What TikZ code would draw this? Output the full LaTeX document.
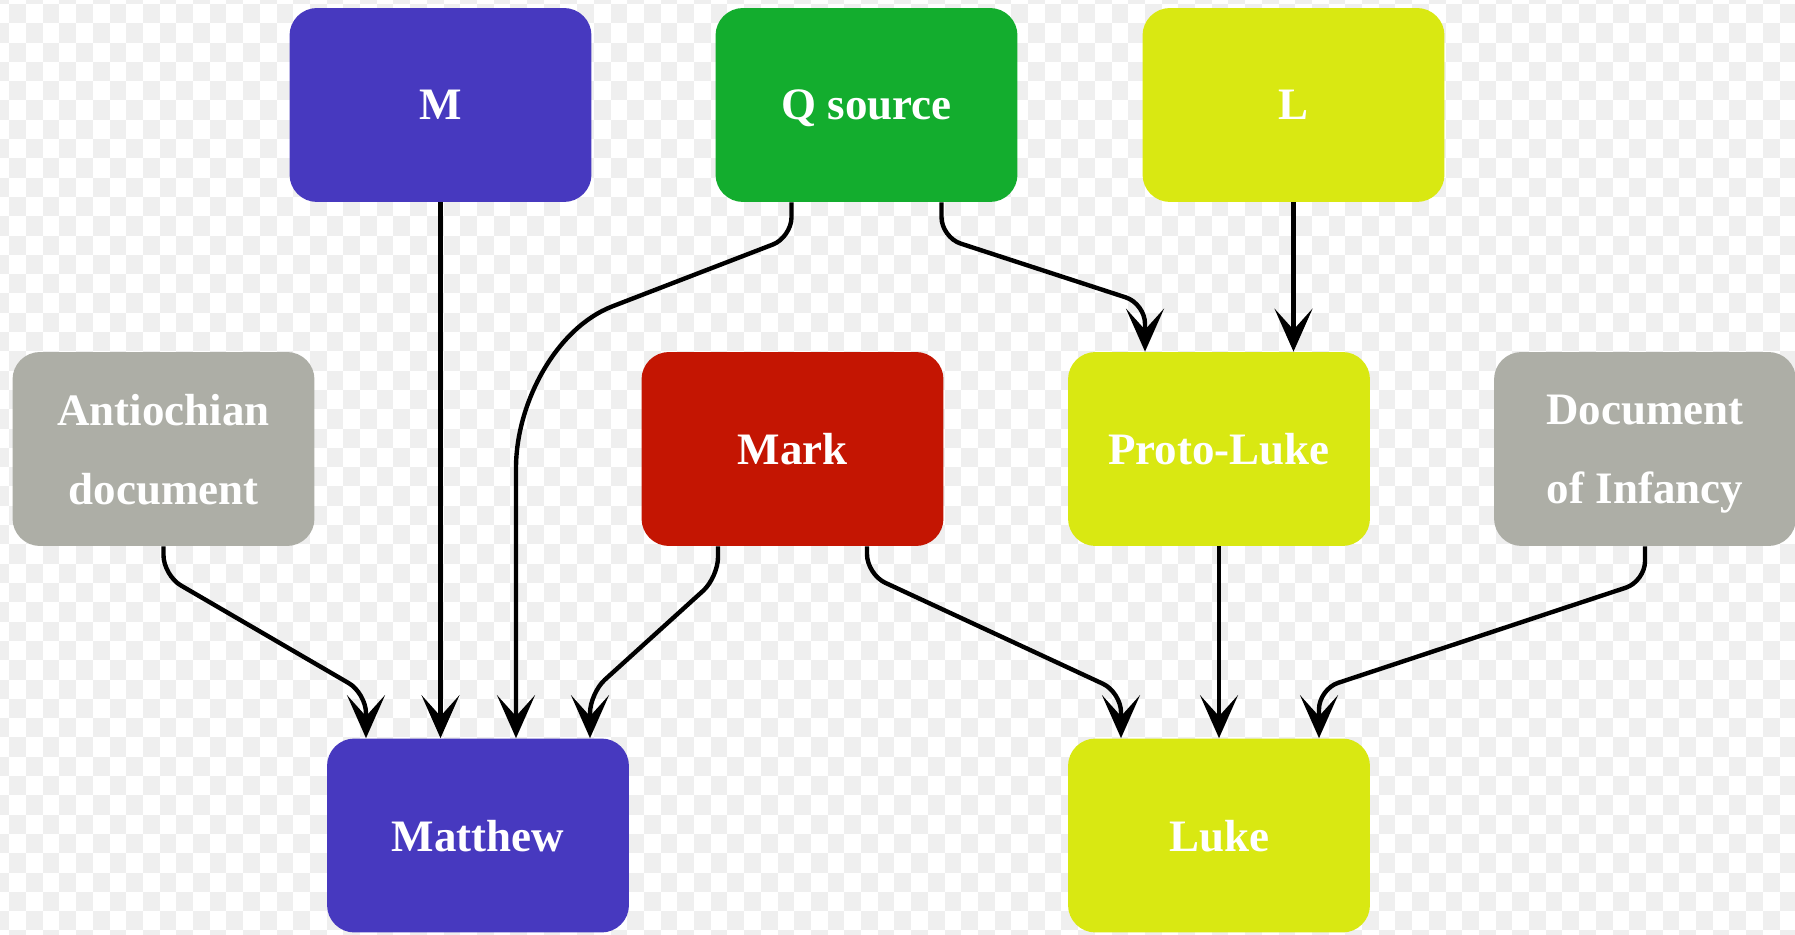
\documentclass[tikz,border=0pt]{standalone}
\usepackage{fontspec}
\setmainfont{Liberation Serif}
\usetikzlibrary{arrows.meta,calc}

\definecolor{mblue}{RGB}{71,57,191}
\definecolor{qgreen}{RGB}{19,173,46}
\definecolor{lyellow}{RGB}{217,232,18}
\definecolor{mkred}{RGB}{196,21,2}
\definecolor{docgray}{RGB}{173,174,166}
\definecolor{checkgray}{RGB}{239,239,239}

\tikzset{
  srcbox/.style={rectangle, rounded corners=0.55cm, minimum width=6.04cm,
    minimum height=3.88cm, inner sep=0pt, text=white, align=center, text depth=0pt,
    font=\fontsize{25.6}{45}\selectfont\bfseries},
  link/.style={line width=2.5pt,
    -{Stealth[length=0.86cm,width=0.76cm,inset=0.42cm]}},
  elbow/.style={rounded corners=0.4cm},
}

\begin{document}
\begin{tikzpicture}[x=0.02cm,y=0.02cm]
\useasboundingbox (0,0) rectangle (1795,934);
% checkered background
\begin{scope}
\clip (0,0) rectangle (1795,934);
\fill[white] (0,0) rectangle (1795,934);
\foreach \r in {-1,...,48}{
  \pgfmathtruncatemacro\p{mod(\r+2,2)}
  \foreach \k in {-1,...,54}
    \fill[checkgray] ({9.3+16.7*(2*\k+\p)},{930-19.3*\r}) rectangle ++(16.7,-19.3);
}
\end{scope}
% sources
\node[srcbox, fill=mblue]   (m)       at (440.5,829) {M};%
\node[srcbox, fill=qgreen]  (qsrc)    at (866.5,829) {Q source};%
\node[srcbox, fill=lyellow] (l)       at (1293.5,829) {L};%
\node[srcbox, fill=docgray] (antioch) at (163.5,485) {Antiochian\\document};%
\node[srcbox, fill=mkred]   (mark)    at (792.5,485) {Mark};%
\node[srcbox, fill=lyellow] (proto)   at (1219,485) {Proto-Luke};%
\node[srcbox, fill=docgray] (infancy) at (1645,485) {Document\\of Infancy};%
\node[srcbox, fill=mblue]   (matthew) at (478,98.5) {Matthew};%
\node[srcbox, fill=lyellow] (luke)    at (1219,98.5) {Luke};%
% links
\draw[link] (m.south) -- (m.south |- matthew.north);%
\draw[link] ($(qsrc.south)+(-75,0)$) [elbow] -- ($(qsrc.south)+(-75,-35)$)
  -- ($(matthew.north)+(153,439)$)
  .. controls ($(matthew.north)+(78,410)$) and ($(matthew.north)+(38,335)$) .. ($(matthew.north)+(38,250)$)
  [sharp corners] -- ($(matthew.north)+(38,0)$);%
\draw[link] ($(qsrc.south)+(75,0)$) [elbow] -- ($(qsrc.south)+(75,-35)$)
  -- ($(proto.north)+(-74,48)$) [sharp corners] -- ($(proto.north)+(-74,0)$);%
\draw[link] (l.south) -- (l.south |- proto.north);%
\draw[link] (antioch.south) [elbow] -- ($(antioch.south)+(0,-29)$)
  -- ($(matthew.north)+(-112,45)$) [sharp corners] -- ($(matthew.north)+(-112,0)$);%
\draw[link] ($(mark.south)+(-74.5,0)$) [elbow] -- ($(mark.south)+(-74.5,-31)$)
  -- ($(matthew.north)+(112,45)$) [sharp corners] -- ($(matthew.north)+(112,0)$);%
\draw[link] ($(mark.south)+(74.5,0)$) [elbow] -- ($(mark.south)+(74.5,-28)$)
  -- ($(luke.north)+(-98,46)$) [sharp corners] -- ($(luke.north)+(-98,0)$);%
\draw[link] (proto.south) -- (luke.north);%
\draw[link] (infancy.south) [elbow] -- ($(infancy.south)+(0,-35)$)
  -- ($(luke.north)+(100,49)$) [sharp corners] -- ($(luke.north)+(100,0)$);%
\end{tikzpicture}
\end{document}
